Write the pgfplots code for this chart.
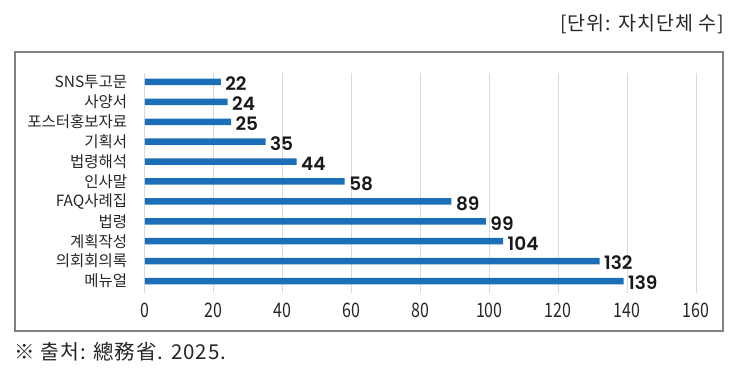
\documentclass[border=0pt]{standalone}
\usepackage{pgfplots}
\pgfplotsset{compat=1.18}
\usepackage{fontspec}
\setmainfont{Noto Sans CJK KR}
\newfontfamily\valfont{Poppins}[BoldFont=* SemiBold]
\newfontfamily\kr{Noto Sans CJK KR}
\newfontfamily\krsp{Noto Sans CJK KR}[LetterSpace=5]
\definecolor{barblue}{HTML}{1B6EB8}
\definecolor{gridgray}{HTML}{D9D9D9}
\definecolor{framegray}{HTML}{808080}
\begin{document}
\begin{tikzpicture}[x=1pt,y=1pt]
\path[use as bounding box] (0,0) rectangle (740,382);
\draw[framegray, line width=1.6pt] (15,51) rectangle (723,330);
\node[anchor=east, inner sep=0pt, font=\krsp\fontsize{19.5}{21}\selectfont, text=black!85] at (724,358) {[단위: 자치단체 수]};
\node[anchor=west, inner sep=0pt, font=\krsp\fontsize{20.5}{22}\selectfont, text=black!85] at (14,30) {※ 출처: 總務省. 2025.};
\begin{axis}[
  at={(145pt,89pt)}, anchor=south west,
  scale only axis, width=551pt, height=220pt,
  xmin=0, xmax=160, ymin=-0.6, ymax=10.45,
  xbar, bar width=6.5pt,
  axis line style={draw=none},
  tick style={draw=none},
  xtick={0,20,...,160},
  xmajorgrids, grid style={gridgray, line width=1pt},
  ytick={0,...,10},
  yticklabels={메뉴얼,의회회의록,계획작성,법령,FAQ사례집,인사말,법령해석,기획서,포스터홍보자료,사양서,SNS투고문},
  yticklabel style={font=\kr\fontsize{15.5}{17}\selectfont, text=black!85, xshift=-10pt},
  /pgf/number format/assume math mode=true,
  xticklabel={\scalebox{0.8}[1]{\pgfmathprintnumber{\tick}}},
  xticklabel style={font=\kr\fontsize{20}{22}\selectfont, text=black!85, anchor=center, yshift=-17pt},
  nodes near coords,
  nodes near coords style={anchor=west, font=\valfont\bfseries\fontsize{18.5}{20}\selectfont, text=black!90, xshift=1pt, yshift=-2pt},
]
\addplot[fill=barblue, draw=none] coordinates {
(139,0) (132,1) (104,2) (99,3) (89,4) (58,5) (44,6) (35,7) (25,8) (24,9) (22,10)
};
\end{axis}
\end{tikzpicture}
\end{document}
